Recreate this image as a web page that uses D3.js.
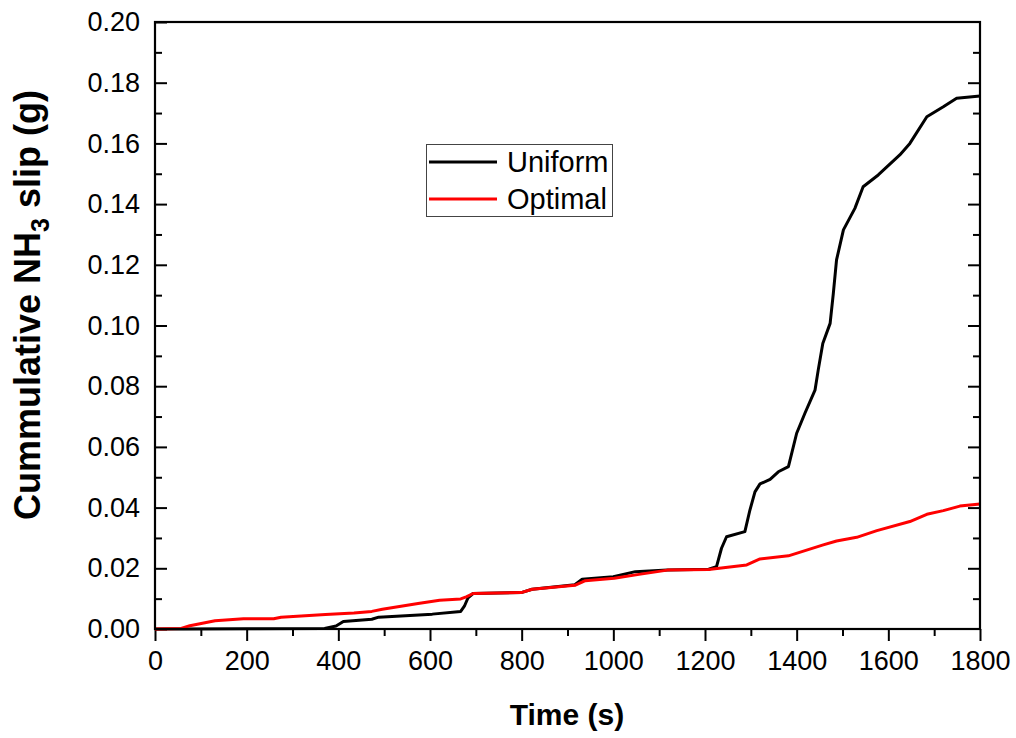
<!DOCTYPE html>
<html>
<head>
<meta charset="utf-8">
<script src="https://cdn.jsdelivr.net/npm/d3@7"></script>
<style>
  body { margin: 0; background: #fff; }
  svg { display: block; font-family: Arial, "Liberation Sans", sans-serif; }
</style>
</head>
<body>
<div id="chart"></div>
<script>
// values
var timeUniform = [0, 60, 200, 370, 395, 411, 473, 488, 605, 667, 675, 683, 694, 799, 823, 916, 932, 1000, 1048, 1118, 1208,
  1225, 1236, 1247, 1287, 1298, 1309, 1320, 1342, 1360, 1382, 1400, 1418, 1440, 1447, 1457, 1473, 1480, 1487, 1502,
  1527, 1545, 1578, 1625, 1647, 1684, 1720, 1749, 1800];
var slipUniform = [0, 0, 0.0001, 0.0002, 0.0010, 0.0025, 0.0032, 0.0039, 0.0049, 0.0058, 0.0075, 0.0103, 0.0117, 0.0120,
  0.0131, 0.0146, 0.0164, 0.0172, 0.0189, 0.0194, 0.0197, 0.0205, 0.0266, 0.0304, 0.0321, 0.0392, 0.0452, 0.0478,
  0.0493, 0.0518, 0.0535, 0.0645, 0.0711, 0.0787, 0.0853, 0.0941, 0.1007, 0.1106, 0.1216, 0.1315, 0.1386, 0.1457,
  0.1496, 0.1562, 0.1600, 0.1688, 0.1721, 0.1749, 0.1756];

var timeOptimal = [0, 57, 76, 131, 193, 259, 275, 372, 434, 473, 496, 574, 621, 667, 679, 694, 799, 823, 916, 939, 1002,
  1056, 1118, 1208, 1291, 1320, 1382, 1458, 1487, 1531, 1575, 1647, 1684, 1720, 1756, 1800];
var slipOptimal = [0, 0.0002, 0.0011, 0.0027, 0.0034, 0.0034, 0.0039, 0.0048, 0.0053, 0.0058, 0.0065, 0.0084, 0.0095,
  0.0099, 0.0106, 0.0117, 0.0120, 0.0131, 0.0144, 0.0159, 0.0167, 0.0180, 0.0194, 0.0196, 0.0211, 0.0231, 0.0241,
  0.0277, 0.0290, 0.0302, 0.0324, 0.0354, 0.0378, 0.0390, 0.0405, 0.0412];

var seriesNames = ["Uniform", "Optimal"];
var xTicks = [0, 200, 400, 600, 800, 1000, 1200, 1400, 1600, 1800];
var xMinor = [100, 300, 500, 700, 900, 1100, 1300, 1500, 1700];
var yTicks = [0, 0.02, 0.04, 0.06, 0.08, 0.10, 0.12, 0.14, 0.16, 0.18, 0.20];
var yMinor = [0.01, 0.03, 0.05, 0.07, 0.09, 0.11, 0.13, 0.15, 0.17, 0.19];

var width = 1016, height = 738;
var plotLeft = 155, plotRight = 980, plotTop = 22, plotBottom = 629;

var svg = d3.select("#chart").append("svg")
  .attr("width", width)
  .attr("height", height);

svg.append("rect").attr("width", width).attr("height", height).attr("fill", "#fff");

var x = d3.scaleLinear().domain([0, 1800]).range([plotLeft, plotRight]);
var y = d3.scaleLinear().domain([0, 0.2]).range([plotBottom, plotTop]);

function styleAxis(g) {
  g.select(".domain").remove();
  g.selectAll(".tick line").attr("stroke", "#000").attr("stroke-width", 2);
  g.selectAll(".tick text").attr("fill", "#000").attr("font-size", 27)
    .attr("font-family", "Arial, 'Liberation Sans', sans-serif");
}

// bottom axis, ticks outward
svg.append("g").attr("transform", "translate(0," + plotBottom + ")")
  .call(d3.axisBottom(x).tickValues(xMinor).tickSize(7).tickFormat(""))
  .call(styleAxis);
svg.append("g").attr("transform", "translate(0," + plotBottom + ")")
  .call(d3.axisBottom(x).tickValues(xTicks).tickSize(12).tickPadding(10).tickFormat(d3.format("d")))
  .call(styleAxis);

// left axis, ticks inward
svg.append("g").attr("transform", "translate(" + plotLeft + ",0)")
  .call(d3.axisLeft(y).tickValues(yMinor).tickSizeInner(-7).tickSizeOuter(0).tickFormat(""))
  .call(styleAxis);
svg.append("g").attr("transform", "translate(" + plotLeft + ",0)")
  .call(d3.axisLeft(y).tickValues(yTicks).tickSizeInner(-12).tickSizeOuter(0).tickPadding(15).tickFormat(d3.format(".2f")))
  .call(styleAxis);

// right axis, ticks inward, no labels
svg.append("g").attr("transform", "translate(" + plotRight + ",0)")
  .call(d3.axisRight(y).tickValues(yMinor).tickSizeInner(-7).tickSizeOuter(0).tickFormat(""))
  .call(styleAxis);
svg.append("g").attr("transform", "translate(" + plotRight + ",0)")
  .call(d3.axisRight(y).tickValues(yTicks.slice(1, -1)).tickSizeInner(-12).tickSizeOuter(0).tickFormat(""))
  .call(styleAxis);

// data lines
var line = d3.line()
  .x(function (d) { return x(d[0]); })
  .y(function (d) { return y(d[1]); });

var uniformData = timeUniform.map(function (t, i) { return [t, slipUniform[i]]; });
var optimalData = timeOptimal.map(function (t, i) { return [t, slipOptimal[i]]; });

svg.append("path").datum(uniformData)
  .attr("d", line).attr("fill", "none")
  .attr("stroke", "#000").attr("stroke-width", 3).attr("stroke-linejoin", "round");
svg.append("path").datum(optimalData)
  .attr("d", line).attr("fill", "none")
  .attr("stroke", "#ff0000").attr("stroke-width", 3).attr("stroke-linejoin", "round");

// frame
svg.append("rect")
  .attr("x", plotLeft).attr("y", plotTop)
  .attr("width", plotRight - plotLeft).attr("height", plotBottom - plotTop)
  .attr("fill", "none").attr("stroke", "#000").attr("stroke-width", 2.2);

// legend
var legend = svg.append("g");
legend.append("rect")
  .attr("x", 426.5).attr("y", 144.5).attr("width", 186).attr("height", 72)
  .attr("fill", "#fff").attr("stroke", "#444").attr("stroke-width", 1);
var legendColors = ["#000", "#ff0000"];
seriesNames.forEach(function (name, i) {
  var ly = 162 + i * 37;
  legend.append("line")
    .attr("x1", 429).attr("x2", 497).attr("y1", ly).attr("y2", ly)
    .attr("stroke", legendColors[i]).attr("stroke-width", 3);
  legend.append("text")
    .attr("x", 507).attr("y", ly).attr("dy", "0.36em")
    .attr("font-size", 29).attr("fill", "#000")
    .text(name);
});

// axis titles
svg.append("text")
  .attr("x", 567).attr("y", 725)
  .attr("text-anchor", "middle")
  .attr("font-size", 30).attr("font-weight", "bold")
  .text("Time (s)");

var yt = svg.append("text")
  .attr("transform", "translate(40,305) rotate(-90)")
  .attr("text-anchor", "middle")
  .attr("font-size", 36).attr("font-weight", "bold");
yt.append("tspan").text("Cummulative NH");
yt.append("tspan").attr("font-size", 25).attr("dy", 9).text("3");
yt.append("tspan").attr("dy", -9).text(" slip (g)");
</script>
</body>
</html>
